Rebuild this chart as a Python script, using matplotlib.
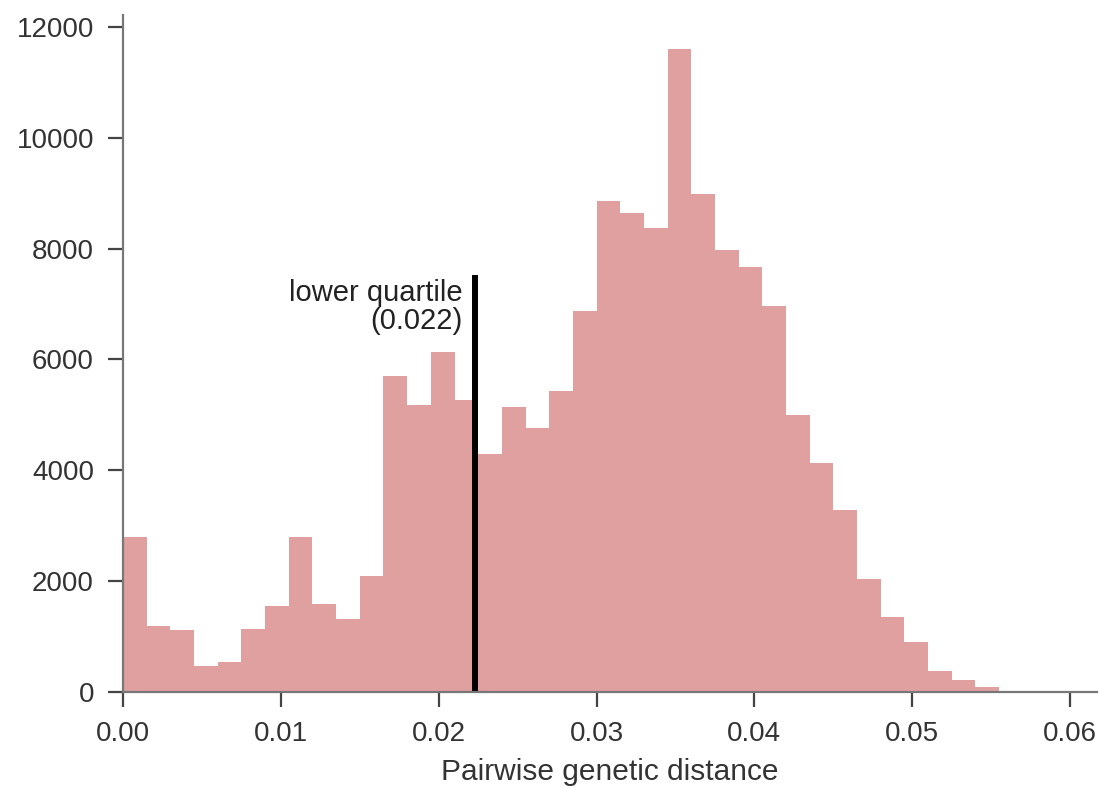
import matplotlib
matplotlib.use("Agg")
import matplotlib.pyplot as plt
import numpy as np

# histogram of pairwise genetic distances, bins of width 0.0015
bin_width = 0.0015
counts = [2800, 1180, 1110, 460, 530, 1140, 1550, 2800, 1590, 1310,
          2080, 5700, 5180, 6140, 5260, 4300, 5140, 4760, 5420, 6870,
          8860, 8650, 8370, 11600, 8980, 7980, 7670, 6960, 4990, 4130,
          3280, 2030, 1340, 900, 370, 205, 85]
lower_quartile = 0.0223
quartile_label = "lower quartile\n(0.022)"

bin_left = np.arange(len(counts)) * bin_width

plt.rcParams['font.family'] = ['Liberation Sans', 'DejaVu Sans']

fig = plt.figure(figsize=(11.04, 7.88), dpi=100)
ax = fig.add_axes([0.1115, 0.1222, 0.882, 0.859])

ax.bar(bin_left, counts, width=bin_width, align='edge',
       color='#e0a09f', edgecolor='none', linewidth=0)

ax.plot([lower_quartile, lower_quartile], [0, 7520], color='black',
        linewidth=4.3, solid_capstyle='butt')
ax.text(lower_quartile - 0.0008, 7450, quartile_label, ha='right', va='top',
        fontsize=21, color='#222222', linespacing=1.0)

ax.set_xlim(0, 0.0617)
ax.set_ylim(0, 12220)
ax.set_xticks([0.0, 0.01, 0.02, 0.03, 0.04, 0.05, 0.06])
ax.set_xticklabels(['0.00', '0.01', '0.02', '0.03', '0.04', '0.05', '0.06'])
ax.set_yticks([0, 2000, 4000, 6000, 8000, 10000, 12000])

ax.set_xlabel('Pairwise genetic distance', fontsize=21.5, color='#333333',
              labelpad=8)

for side in ['top', 'right']:
    ax.spines[side].set_visible(False)
for side in ['left', 'bottom']:
    ax.spines[side].set_color('#777777')
    ax.spines[side].set_linewidth(1.6)

ax.tick_params(axis='both', direction='out', length=11, width=1.6,
               color='#444444', labelsize=20, labelcolor='#333333', pad=10)

plt.savefig('out.png', dpi=100)
